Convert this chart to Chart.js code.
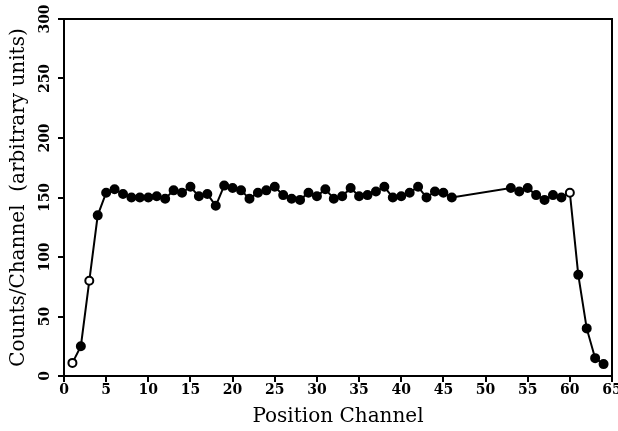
<!DOCTYPE html>
<html>
<head>
<meta charset="utf-8">
<script src="https://cdn.jsdelivr.net/npm/chart.js@4/dist/chart.umd.min.js"></script>
<style>
  html, body { margin: 0; padding: 0; background: #fff; }
  #wrap { width: 618px; height: 431px; position: relative; }
</style>
</head>
<body>
<div id="wrap"><canvas id="countsChart"></canvas></div>
<script>
// Channel numbers (channels 47-52 have no data)
const channels = [
    1, 2, 3, 4, 5, 6, 7, 8, 9, 10,
    11, 12, 13, 14, 15, 16, 17, 18, 19, 20,
    21, 22, 23, 24, 25, 26, 27, 28, 29, 30,
    31, 32, 33, 34, 35, 36, 37, 38, 39, 40,
    41, 42, 43, 44, 45, 46,
    53, 54, 55, 56, 57, 58, 59, 60,
    61, 62, 63, 64
];

// Counts per channel (arbitrary units)
const counts = [
    11, 25, 80, 135, 154, 157, 153, 150, 150, 150,
    151, 149, 156, 154, 159, 151, 153, 143, 160, 158,
    156, 149, 154, 156, 159, 152, 149, 148, 154, 151,
    157, 149, 151, 158, 151, 152, 155, 159, 150, 151,
    154, 159, 150, 155, 154, 150,
    158, 155, 158, 152, 148, 152, 150, 154,
    85, 40, 15, 10
];

// Channels drawn with an open marker
const hollowChannels = [1, 3, 60];

const xTicks = [0, 5, 10, 15, 20, 25, 30, 35, 40, 45, 50, 55, 60, 65];
const yTicks = [0, 50, 100, 150, 200, 250, 300];

const points = channels.map((c, i) => ({ x: c, y: counts[i] }));

// Draw the closed frame around the plot area
const frameBox = {
    id: 'frameBox',
    afterDraw(chart) {
        const a = chart.chartArea;
        const ctx = chart.ctx;
        ctx.save();
        ctx.strokeStyle = '#000';
        ctx.lineWidth = 2;
        ctx.strokeRect(a.left, a.top, a.right - a.left, a.bottom - a.top);
        ctx.restore();
    }
};

const tickFont = { family: '"DejaVu Serif", serif', size: 14, weight: 'bold' };
const titleFont = { family: '"DejaVu Serif", serif', size: 20, weight: 'normal' };

const ctx = document.getElementById('countsChart').getContext('2d');
const countsChart = new Chart(ctx, {
    type: 'line',
    data: {
        datasets: [{
            label: 'Counts',
            data: points,
            borderColor: '#000',
            borderWidth: 2,
            tension: 0,
            fill: false,
            pointRadius: 4,
            pointBorderWidth: 2,
            pointBorderColor: '#000',
            pointBackgroundColor: function (c) {
                const p = c.raw;
                return p && hollowChannels.includes(p.x) ? '#fff' : '#000';
            }
        }]
    },
    options: {
        responsive: true,
        maintainAspectRatio: false,
        animation: false,
        layout: {
            padding: { top: 19, right: 6, left: 0, bottom: 0 }
        },
        plugins: {
            legend: { display: false },
            tooltip: { enabled: false }
        },
        scales: {
            x: {
                type: 'linear',
                min: 0,
                max: 65,
                afterBuildTicks: function (scale) {
                    scale.ticks = xTicks.map(v => ({ value: v }));
                },
                afterFit: function (scale) {
                    scale.height = 55;
                    scale.paddingLeft = 0;
                    scale.paddingRight = 0;
                },
                border: { display: true, color: '#000', width: 2 },
                grid: {
                    display: true,
                    drawOnChartArea: false,
                    drawTicks: true,
                    tickLength: 6,
                    color: '#000',
                    lineWidth: 2
                },
                ticks: {
                    color: '#000',
                    font: tickFont,
                    padding: 0,
                    maxRotation: 0,
                    autoSkip: false
                },
                title: {
                    display: true,
                    text: 'Position Channel',
                    color: '#000',
                    font: titleFont,
                    padding: { top: 0, bottom: 2 }
                }
            },
            y: {
                min: 0,
                max: 300,
                afterBuildTicks: function (scale) {
                    scale.ticks = yTicks.map(v => ({ value: v }));
                },
                afterFit: function (scale) {
                    scale.width = 64;
                    scale.paddingTop = 0;
                    scale.paddingBottom = 0;
                },
                border: { display: true, color: '#000', width: 2 },
                grid: {
                    display: true,
                    drawOnChartArea: false,
                    drawTicks: true,
                    tickLength: 6,
                    color: '#000',
                    lineWidth: 2
                },
                ticks: {
                    color: '#000',
                    font: tickFont,
                    minRotation: 90,
                    maxRotation: 90,
                    crossAlign: 'center',
                    padding: -2,
                    autoSkip: false
                },
                title: {
                    display: true,
                    text: 'Counts/Channel  (arbitrary units)',
                    color: '#000',
                    font: titleFont,
                    padding: { top: 7, bottom: 0 }
                }
            }
        }
    },
    plugins: [frameBox]
});
</script>
</body>
</html>
